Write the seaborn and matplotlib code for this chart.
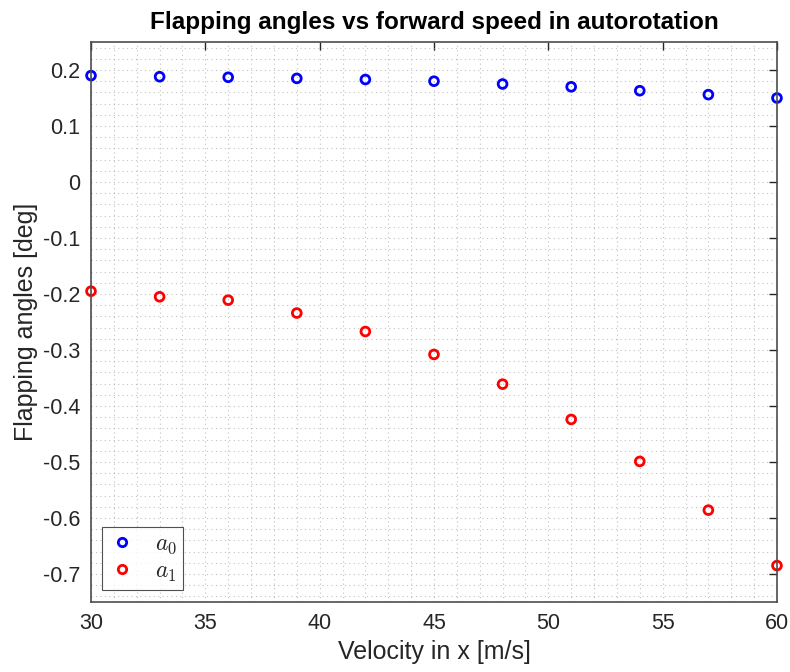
import numpy as np
import pandas as pd
import matplotlib
matplotlib.use("Agg")
import matplotlib.pyplot as plt
import seaborn as sns
from matplotlib.ticker import MultipleLocator, FuncFormatter
from matplotlib.lines import Line2D

# Forward speed samples and flapping coefficients
velocity = [30, 33, 36, 39, 42, 45, 48, 51, 54, 57, 60]
a0_vals = [0.190, 0.188, 0.187, 0.185, 0.183, 0.180, 0.175, 0.170, 0.163, 0.156, 0.150]
a1_vals = [-0.195, -0.205, -0.211, -0.234, -0.267, -0.308, -0.361, -0.424, -0.499, -0.586, -0.685]
series_names = ["$a_0$", "$a_1$"]
series_colors = ["#0000ff", "#ff0000"]

df = pd.DataFrame({
    "v": velocity * 2,
    "angle": a0_vals + a1_vals,
    "series": [series_names[0]] * len(velocity) + [series_names[1]] * len(velocity),
})

sns.set_theme(style="white")
plt.rcParams["font.family"] = ["Liberation Sans", "DejaVu Sans"]
plt.rcParams["mathtext.fontset"] = "cm"
plt.rcParams["axes.unicode_minus"] = False

fig = plt.figure(figsize=(7.9, 6.72), dpi=100)
ax = fig.add_axes([0.1152, 0.1042, 0.8683, 0.8333])

sns.scatterplot(data=df, x="v", y="angle", hue="series", palette=series_colors,
                marker="o", s=40, linewidth=2.0, ax=ax, legend=False)
# hollow circles: clear the fill, keep the coloured edges
pts = ax.collections[0]
pts.set_facecolor("none")
pts.set_edgecolor([series_colors[0]] * len(velocity) + [series_colors[1]] * len(velocity))
pts.set_clip_on(False)

ax.set_xlim(30, 60)
ax.set_ylim(-0.75, 0.25)
ax.xaxis.set_major_locator(MultipleLocator(5))
ax.xaxis.set_minor_locator(MultipleLocator(1))
ax.yaxis.set_major_locator(MultipleLocator(0.1))
ax.yaxis.set_minor_locator(MultipleLocator(0.02))
ax.yaxis.set_major_formatter(FuncFormatter(lambda v, p: "0" if abs(v) < 1e-9 else f"{v:.1f}"))

ax.grid(which="both", color="#a0a0a0", linestyle=(0, (1, 3)), linewidth=0.8, alpha=0.65)
ax.set_axisbelow(True)

ax.tick_params(which="major", direction="in", length=6, width=1.0, top=True, right=True,
               labelsize=15.5, colors="#262626", pad=8)
ax.tick_params(which="minor", length=0, top=True, right=True)
for sp in ax.spines.values():
    sp.set_color("#4d4d4d")
    sp.set_linewidth(1.2)

ax.set_xlabel("Velocity in x [m/s]", fontsize=18, color="#262626", labelpad=4)
ax.set_ylabel("Flapping angles [deg]", fontsize=18, color="#262626", labelpad=3)
ax.set_title("Flapping angles vs forward speed in autorotation", fontsize=17.5,
             fontweight="bold", color="black", pad=9)

handles = [Line2D([], [], marker="o", linestyle="none", markerfacecolor="none",
                  markeredgecolor=c, markeredgewidth=2, markersize=6) for c in series_colors]
leg = ax.legend(handles, series_names, loc="lower left", fontsize=17, frameon=True,
                fancybox=False, edgecolor="#262626", handlelength=1.2, handletextpad=0.8,
                borderpad=0.25, labelspacing=0.2, borderaxespad=0,
                bbox_to_anchor=(0.016, 0.022))
leg.get_frame().set_linewidth(0.8)

fig.savefig("out.png", dpi=100)
